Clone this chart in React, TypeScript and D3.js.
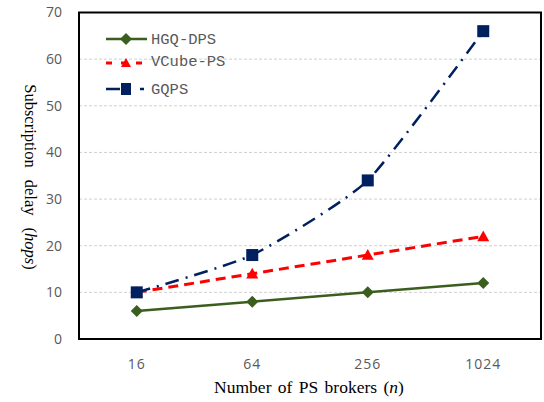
import React from "react";
import * as d3 from "d3";

const categories = ["16", "64", "256", "1024"];
const hgqDps = [6, 8, 10, 12];
const vcubePs = [10, 14, 18, 22];
const gqps = [10, 18, 34, 66];
const yTicks = [0, 10, 20, 30, 40, 50, 60, 70];
const seriesNames = ["HGQ-DPS", "VCube-PS", "GQPS"];

const W = 544, H = 402;
const M = { left: 79, right: 541, top: 12.5, bottom: 339 };

export default function App() {
  const x = d3.scaleBand<string>().domain(categories).range([M.left, M.right]);
  const cx = (c: string) => (x(c) as number) + x.bandwidth() / 2;
  const y = d3.scaleLinear().domain([0, 70]).range([M.bottom, M.top]);

  const straight = d3.line<number>().x((_, i) => cx(categories[i])).y((d) => y(d));
  const smooth = d3
    .line<number>()
    .x((_, i) => cx(categories[i]))
    .y((d) => y(d))
    .curve(d3.curveCardinal.tension(0.45));

  const green = "#3b5e1f";
  const red = "#ff0000";
  const navy = "#002060";

  const diamond = (px: number, py: number, r = 6) =>
    `M${px},${py - r}L${px + r},${py}L${px},${py + r}L${px - r},${py}Z`;
  const tri = (px: number, py: number, r = 6) =>
    `M${px},${py - r}L${px + r},${py + r * 0.8}L${px - r},${py + r * 0.8}Z`;

  const sansFont = "'Open Sans', 'DejaVu Sans', sans-serif";
  const monoFont = "'Liberation Mono', 'DejaVu Sans Mono', monospace";
  const serifFont = "'Liberation Serif', 'DejaVu Serif', serif";

  const legendY = [39, 63, 89];
  const legX1 = 106, legX2 = 147, legMid = 126;

  return (
    <svg width={W} height={H} style={{ position: "absolute", left: 0, top: 0, background: "#fff" }}>
      {/* gridlines */}
      {yTicks.slice(1, -1).map((t) => (
        <line key={t} x1={M.left} x2={M.right} y1={y(t)} y2={y(t)} stroke="#d0d0d0" strokeWidth={1} strokeDasharray="3,2" />
      ))}
      {/* y tick labels */}
      {yTicks.map((t) => (
        <text key={t} x={62} y={y(t)} dy="0.35em" textAnchor="end" fontFamily={sansFont} fontSize={14} fill="#595959">
          {t}
        </text>
      ))}
      {/* x tick labels */}
      {categories.map((c) => (
        <text key={c} x={cx(c)} y={369} textAnchor="middle" fontFamily={sansFont} fontSize={14} fill="#595959" letterSpacing={1}>
          {c}
        </text>
      ))}
      {/* series */}
      <path d={straight(hgqDps) as string} fill="none" stroke={green} strokeWidth={2.5} />
      <path d={straight(vcubePs) as string} fill="none" stroke={red} strokeWidth={3} strokeDasharray="10,6" />
      <path d={smooth(gqps) as string} fill="none" stroke={navy} strokeWidth={2.5} strokeDasharray="14,7,2,7" />
      {hgqDps.map((v, i) => (
        <path key={"g" + i} d={diamond(cx(categories[i]), y(v))} fill={green} />
      ))}
      {vcubePs.map((v, i) => (
        <path key={"r" + i} d={tri(cx(categories[i]), y(v))} fill={red} />
      ))}
      {gqps.map((v, i) => (
        <rect key={"b" + i} x={cx(categories[i]) - 6} y={y(v) - 6} width={12} height={12} fill={navy} />
      ))}
      {/* plot border */}
      <rect x={M.left} y={M.top} width={M.right - M.left} height={M.bottom - M.top} fill="none" stroke="#000" strokeWidth={2} />
      {/* legend */}
      <line x1={legX1} x2={legX2} y1={legendY[0]} y2={legendY[0]} stroke={green} strokeWidth={2.5} />
      <path d={diamond(legMid, legendY[0])} fill={green} />
      <line x1={legX1} x2={legX2} y1={legendY[1]} y2={legendY[1]} stroke={red} strokeWidth={3} strokeDasharray="6,9" />
      <path d={tri(legMid, legendY[1], 5)} fill={red} />
      <line x1={legX1} x2={legX2} y1={legendY[2]} y2={legendY[2]} stroke={navy} strokeWidth={2.5} strokeDasharray="14,20,4,20" />
      <rect x={legMid - 5} y={legendY[2] - 6} width={10} height={12} fill={navy} />
      {seriesNames.map((n, i) => (
        <text key={n} x={151} y={legendY[i] + (i === 1 ? -2 : 0)} dy="0.35em" fontFamily={monoFont} fontSize={15.5} fill="#595959">
          {n}
        </text>
      ))}
      {/* axis titles */}
      <text x={309} y={393} textAnchor="middle" fontFamily={serifFont} fontSize={17.5} fill="#000" wordSpacing={2}>
        Number of PS brokers (<tspan fontStyle="italic">n</tspan>)
      </text>
      <text
        transform={`translate(20,177) rotate(90)`}
        textAnchor="middle"
        dy="-0.3em"
        fontFamily={serifFont}
        fontSize={16.5}
        fill="#000"
        wordSpacing={8}
      >
        Subscription delay (<tspan fontStyle="italic">hops</tspan>)
      </text>
    </svg>
  );
}
